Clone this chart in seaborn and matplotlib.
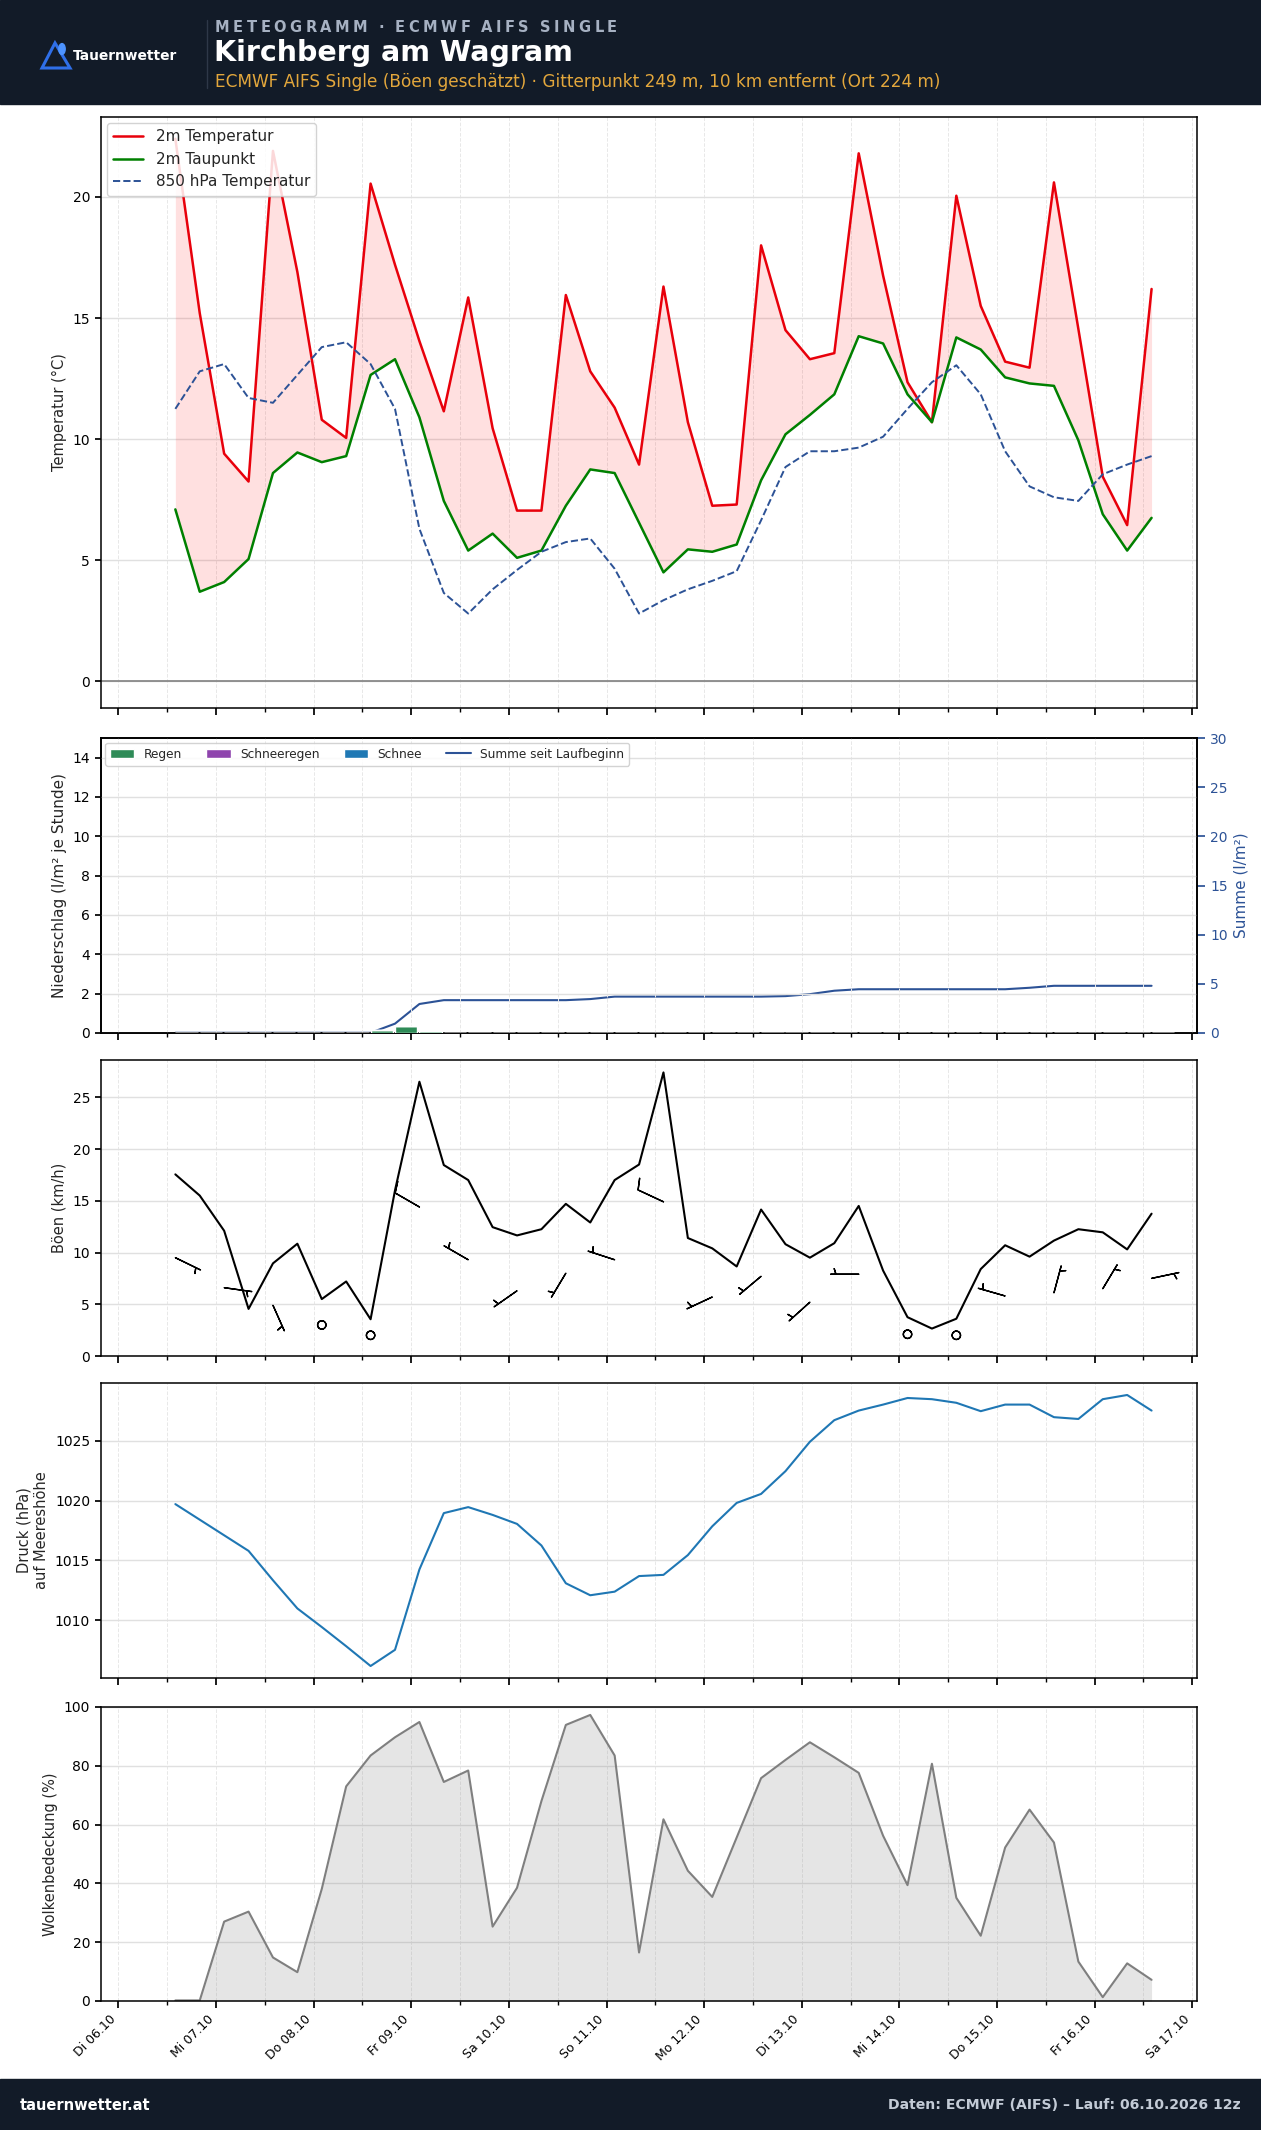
import numpy as np
import pandas as pd
import matplotlib
matplotlib.use("Agg")
import matplotlib.pyplot as plt
import matplotlib.dates as mdates
from matplotlib.patches import Polygon, Circle, Rectangle
from matplotlib.lines import Line2D
import seaborn as sns

# ---------------- data ----------------
times = pd.date_range("2026-10-06 14:00", periods=41, freq="6h")

temp_2m = [22.4, 15.2, 9.4, 8.25, 21.9, 16.9, 10.8, 10.05, 20.55, 17.2, 14.05, 11.15,
           15.85, 10.45, 7.05, 7.05, 15.95, 12.8, 11.3, 8.95, 16.3, 10.7, 7.25, 7.3,
           18.0, 14.5, 13.3, 13.55, 21.8, 16.75, 12.35, 10.7, 20.05, 15.5, 13.2, 12.95,
           20.6, 14.55, 8.45, 6.45, 16.2]
dewpoint_2m = [7.1, 3.7, 4.1, 5.05, 8.6, 9.45, 9.05, 9.3, 12.65, 13.3, 10.9, 7.45,
               5.4, 6.1, 5.1, 5.4, 7.25, 8.75, 8.6, 6.55, 4.5, 5.45, 5.35, 5.65,
               8.3, 10.2, 11.0, 11.85, 14.25, 13.95, 11.85, 10.7, 14.2, 13.7, 12.55, 12.3,
               12.2, 9.95, 6.9, 5.4, 6.75]
temp_850 = [11.25, 12.8, 13.1, 11.7, 11.5, 12.65, 13.8, 14.0, 13.1, 11.25, 6.3, 3.65,
            2.8, 3.8, 4.6, 5.35, 5.75, 5.9, 4.65, 2.8, 3.35, 3.8, 4.15, 4.55,
            6.65, 8.85, 9.5, 9.5, 9.65, 10.1, 11.25, 12.35, 13.05, 11.85, 9.5, 8.05,
            7.6, 7.45, 8.55, 8.95, 9.3]

precip_rain = [0, 0, 0, 0, 0, 0, 0, 0, 0.15, 0.36, 0.10, 0, 0, 0, 0, 0, 0.02, 0.02, 0, 0,
               0, 0, 0, 0, 0.02, 0.02, 0.02, 0.02, 0, 0, 0, 0, 0, 0, 0.02, 0.02, 0, 0, 0, 0, 0]
precip_sleet = [0] * 41
precip_snow = [0] * 41
precip_cum = [0.02, 0.02, 0.02, 0.02, 0.02, 0.02, 0.02, 0.02, 0.02, 0.95, 2.95, 3.34,
              3.34, 3.34, 3.34, 3.34, 3.34, 3.45, 3.7, 3.7, 3.7, 3.7, 3.7, 3.7,
              3.7, 3.75, 3.95, 4.3, 4.45, 4.45, 4.45, 4.45, 4.45, 4.45, 4.45, 4.6,
              4.8, 4.8, 4.8, 4.8, 4.8]

gusts = [17.55, 15.5, 12.1, 4.55, 8.95, 10.85, 5.5, 7.2, 3.55, 16.0, 26.5, 18.45,
         17.0, 12.45, 11.65, 12.25, 14.7, 12.9, 17.0, 18.5, 27.4, 11.4, 10.4, 8.65,
         14.15, 10.8, 9.5, 10.9, 14.5, 8.25, 3.75, 2.65, 3.6, 8.4, 10.7, 9.6,
         11.15, 12.25, 11.95, 10.3, 13.75]
# wind at every second time step (km/h, meteorological direction in degrees)
wind_kmh = [9.5, 6.6, 4.9, 3.0, 2.0, 14.4, 9.3, 6.3, 8.0, 9.3, 14.9, 5.7, 7.7, 5.2,
            7.9, 2.1, 2.0, 5.8, 6.1, 6.5, 7.5]
wind_dir = [116, 98, 156, 0, 0, 300, 300, 235, 211, 288, 295, 245, 230, 228,
            270, 0, 0, 286, 15, 31, 78]

pressure = [1019.7, 1018.4, 1017.1, 1015.8, 1013.35, 1011.0, 1009.45, 1007.85, 1006.2,
            1007.55, 1014.25, 1018.95, 1019.45, 1018.8, 1018.05, 1016.25, 1013.1, 1012.1,
            1012.4, 1013.7, 1013.8, 1015.45, 1017.85, 1019.8, 1020.55, 1022.45, 1024.9,
            1026.7, 1027.5, 1028.0, 1028.55, 1028.45, 1028.15, 1027.45, 1028.0, 1028.0,
            1026.95, 1026.8, 1028.45, 1028.8, 1027.5]

cloud = [0.2, 0.2, 27.0, 30.4, 14.8, 9.8, 38.1, 73.0, 83.5, 89.7, 94.9, 74.5, 78.4,
         25.3, 38.5, 68.0, 93.9, 97.3, 83.5, 16.5, 61.8, 44.3, 35.4, 55.6, 75.8, 82.0,
         88.0, 82.9, 77.6, 56.2, 39.4, 80.7, 35.1, 22.2, 52.2, 65.1, 53.9, 13.4, 1.3,
         12.8, 7.2]

day_ticks = pd.date_range("2026-10-06", periods=12, freq="D")
day_labels = ["Di 06.10", "Mi 07.10", "Do 08.10", "Fr 09.10", "Sa 10.10", "So 11.10",
              "Mo 12.10", "Di 13.10", "Mi 14.10", "Do 15.10", "Fr 16.10", "Sa 17.10"]

# ---------------- style ----------------
sns.set_theme(style="ticks")
plt.rcParams["font.family"] = ["DejaVu Sans"]
plt.rcParams["axes.edgecolor"] = "black"
plt.rcParams["xtick.color"] = "black"
plt.rcParams["ytick.color"] = "black"

W, H = 1261, 2130
fig = plt.figure(figsize=(W / 100, H / 100), dpi=100)
fig.patch.set_facecolor("white")

left, width = 100.5 / W, (1197 - 100.5) / W
rows = [(117, 708), (738, 1033), (1060, 1356), (1383, 1678), (1707, 2001)]
axes = []
for top, bot in rows:
    axes.append(fig.add_axes([left, 1 - bot / H, width, (bot - top) / H]))
ax_t, ax_p, ax_g, ax_pr, ax_c = axes

xlim = (pd.Timestamp("2026-10-05 19:36"), pd.Timestamp("2026-10-17 01:10"))
df = pd.DataFrame({"time": times, "t2m": temp_2m, "td": dewpoint_2m, "t850": temp_850,
                   "cum": precip_cum, "gust": gusts, "p": pressure, "cloud": cloud})

# ---- Temperature ----
ax_t.fill_between(times, temp_2m, dewpoint_2m, color="red", alpha=0.12, lw=0, zorder=1)
sns.lineplot(data=df, x="time", y="t2m", ax=ax_t, color="#e8000b", lw=1.8,
             label="2m Temperatur", zorder=3)
sns.lineplot(data=df, x="time", y="td", ax=ax_t, color="green", lw=1.8,
             label="2m Taupunkt", zorder=3)
sns.lineplot(data=df, x="time", y="t850", ax=ax_t, color="#2c5296", lw=1.4,
             ls="--", label="850 hPa Temperatur", zorder=3)
ax_t.axhline(0, color="gray", lw=1.2, zorder=2)
ax_t.set_ylim(-1.1, 23.3)
ax_t.set_yticks([0, 5, 10, 15, 20])
ax_t.set_ylabel("Temperatur (°C)", fontsize=10.5)
ax_t.legend(loc="upper left", fontsize=11, borderaxespad=0.4, framealpha=0.85)

# ---- Precipitation ----
bw = 0.23
ax_p.bar(times, precip_rain, width=bw, align="edge", color="#2e8b57", label="Regen", zorder=3)
ax_p.bar(times, precip_sleet, width=bw, align="edge", bottom=precip_rain,
         color="#8e44ad", label="Schneeregen", zorder=3)
ax_p.bar(times, precip_snow, width=bw, align="edge",
         bottom=np.array(precip_rain) + np.array(precip_sleet),
         color="#1f78b4", label="Schnee", zorder=3)
ax_p.set_ylim(0, 15)
ax_p.set_yticks(range(0, 15, 2))
ax_p.set_ylabel("Niederschlag (l/m² je Stunde)", fontsize=11)
ax_p2 = ax_p.twinx()
sns.lineplot(data=df, x="time", y="cum", ax=ax_p2, color="#2c5296", lw=1.5,
             label="Summe seit Laufbeginn", legend=False)
ax_p2.set_ylim(0, 30)
ax_p2.set_yticks(range(0, 31, 5))
ax_p2.set_ylabel("Summe (l/m²)", fontsize=11, color="#2c5296")
ax_p2.tick_params(axis="y", colors="#2c5296", labelsize=10)
ax_p2.spines["right"].set_color("black")
ax_p2.set_xlabel("")
h1, l1 = ax_p.get_legend_handles_labels()
h2, l2 = ax_p2.get_legend_handles_labels()
leg = ax_p.legend(h1 + h2, l1 + l2, loc="upper left", ncol=4, fontsize=8.7,
                  borderaxespad=0.4, framealpha=0.85)
ax_p.set_zorder(ax_p2.get_zorder() + 1)
ax_p.patch.set_visible(False)

# ---- Gusts & wind barbs ----
sns.lineplot(data=df, x="time", y="gust", ax=ax_g, color="black", lw=1.5)
bt = mdates.date2num(times[::2])
spd_kt = np.array(wind_kmh) / 1.852
rad = np.deg2rad(wind_dir)
u = -spd_kt * np.sin(rad)
v = -spd_kt * np.cos(rad)
ax_g.barbs(bt, wind_kmh, u, v, length=6.35, lw=1.0, color="black", zorder=4)
ax_g.set_ylim(0, 28.6)
ax_g.set_yticks([0, 5, 10, 15, 20, 25])
ax_g.set_ylabel("Böen (km/h)", fontsize=10.5)

# ---- Pressure ----
sns.lineplot(data=df, x="time", y="p", ax=ax_pr, color="#1f77b4", lw=1.5)
ax_pr.set_ylim(1005.2, 1029.8)
ax_pr.set_yticks([1010, 1015, 1020, 1025])
ax_pr.set_ylabel("Druck (hPa)\nauf Meereshöhe", fontsize=10.5)

# ---- Clouds ----
ax_c.fill_between(times, 0, cloud, color="gray", alpha=0.2, lw=0)
sns.lineplot(data=df, x="time", y="cloud", ax=ax_c, color="#7f7f7f", lw=1.5)
ax_c.set_ylim(0, 100)
ax_c.set_yticks([0, 20, 40, 60, 80, 100])
ax_c.set_ylabel("Wolkenbedeckung (%)", fontsize=10.5)

for ax in axes:
    ax.set_xlim(xlim)
    ax.set_xticks(day_ticks)
    ax.xaxis.set_minor_locator(mdates.HourLocator(byhour=[12]))
    ax.grid(axis="y", color="#e0e0e0", lw=1.0, ls="-")
    ax.grid(axis="x", which="both", color="#e8e8e8", lw=0.7, ls="--")
    ax.set_axisbelow(True)
    ax.tick_params(axis="y", labelsize=10, length=4)
    ax.tick_params(axis="x", which="major", length=5)
    ax.tick_params(axis="x", which="minor", length=3, bottom=True)
    ax.set_xlabel("")
    for s in ax.spines.values():
        s.set_color("black")
        s.set_linewidth(1.1)
    if ax is not ax_c:
        ax.set_xticklabels([])
ax_c.set_xticklabels(day_labels, rotation=45, ha="right", fontsize=9)

# ---------------- header / footer ----------------
def fx(x):
    return x / W

def fy(y):
    return 1 - y / H

band = "#121b28"
fig.patches.append(Rectangle((0, fy(104)), 1, 104 / H, transform=fig.transFigure,
                             color=band, zorder=0))
fig.patches.append(Rectangle((0, 0), 1, (H - 2079) / H, transform=fig.transFigure,
                             color=band, zorder=0))
# logo
tri = Polygon([(fx(55), fy(43)), (fx(42), fy(68)), (fx(70), fy(68))], closed=True,
              fill=False, edgecolor="#2f6fe8", lw=2.2, transform=fig.transFigure,
              joinstyle="miter")
fig.patches.append(tri)
fig.patches.append(Circle((fx(62), fy(49)), 3.2 / W, transform=fig.transFigure,
                          color="#4d93ff", zorder=3))
fig.text(fx(73), fy(56), "Tauernwetter", color="white", fontsize=9.9,
         fontweight="bold", va="center", ha="left")
fig.lines.append(Line2D([fx(207), fx(207)], [fy(20), fy(88)], transform=fig.transFigure,
                        color="#2e3848", lw=1))

# letter-spaced top line
renderer = fig.canvas.get_renderer()
s = "METEOGRAMM · ECMWF AIFS SINGLE"
txts, widths = [], []
for ch in s:
    t = fig.text(0, fy(27), ch if ch != " " else "", color="#a6b1c2", fontsize=10.5,
                 fontweight="bold", va="center", ha="left")
    w = t.get_window_extent(renderer).width if ch != " " else 4.0
    txts.append(t)
    widths.append(w)
target = 402.0
gap = (target - sum(widths)) / (len(s) - 1)
x = 215.0
for t, w in zip(txts, widths):
    t.set_x(fx(x))
    x += w + gap

fig.text(fx(214), fy(53), "Kirchberg am Wagram", color="white", fontsize=20.5,
         fontweight="bold", va="center", ha="left")
fig.text(fx(215), fy(82), "ECMWF AIFS Single (Böen geschätzt) · Gitterpunkt 249 m, "
         "10 km entfernt (Ort 224 m)", color="#e3a73c", fontsize=12.2, va="center",
         ha="left")

fig.text(fx(20), fy(2105), "tauernwetter.at", color="white", fontsize=10.5,
         fontweight="bold", va="center", ha="left")
fig.text(fx(1241), fy(2105), "Daten: ECMWF (AIFS) – Lauf: 06.10.2026 12z",
         color="#c3cbd6", fontsize=10.1, fontweight="bold", va="center", ha="right")

fig.savefig("out.png", dpi=100, facecolor="white")
